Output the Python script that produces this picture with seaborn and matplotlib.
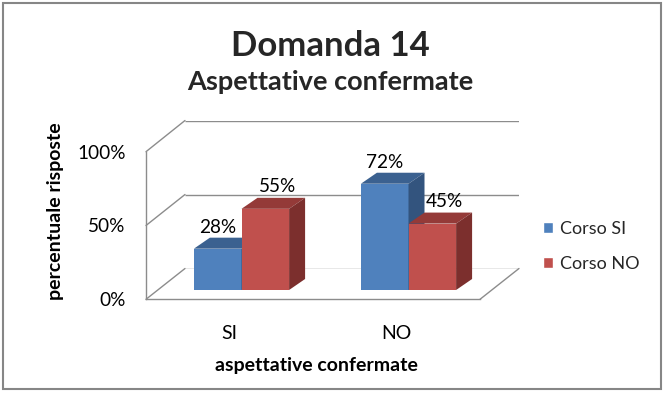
import matplotlib
matplotlib.use("Agg")
import matplotlib.pyplot as plt
import seaborn as sns
import pandas as pd
from matplotlib.patches import Polygon, Rectangle, ConnectionPatch

# --- data ---
categories = ["SI", "NO"]
series = ["Corso SI", "Corso NO"]
corso_si = [28, 72]
corso_no = [55, 45]
yticks = [0, 50, 100]
ytick_labels = ["0%", "50%", "100%"]

title = "Domanda 14"
subtitle = "Aspettative confermate"
xlabel = "aspettative confermate"
ylabel = "percentuale risposte"

front_colors = ["#4F81BD", "#C0504D"]
top_colors = ["#3B6190", "#943A38"]
side_colors = ["#33547E", "#7C2F2D"]
grid_color = "#8C8C8C"

W, H = 664, 393


def px_rect(left, top, right, bottom):
    # pixel box (top-left origin) -> figure fraction rect
    return [left / W, 1 - bottom / H, (right - left) / W, (bottom - top) / H]


df = pd.DataFrame({
    "categoria": categories * 2,
    "serie": [series[0]] * len(categories) + [series[1]] * len(categories),
    "valore": corso_si + corso_no,
})

sns.set_theme(style="white")
plt.rcParams["font.family"] = ["Lato", "DejaVu Sans"]

fig = plt.figure(figsize=(W / 100, H / 100), dpi=100)
fig.patch.set_facecolor("white")

# back wall, front plane (axis + labels), plane of the bars
ax_b = fig.add_axes(px_rect(185, 120.5, 519, 268.5))
ax_f = fig.add_axes(px_rect(146, 151.7, 480, 299.3))
ax_m = fig.add_axes(px_rect(158, 142.4, 492, 290))

for ax in (ax_b, ax_f, ax_m):
    ax.set_xlim(-0.5, len(categories) - 0.5)
    ax.set_ylim(0, 100)
    ax.patch.set_alpha(0)

# back wall gridlines
ax_b.set_axis_off()
ax_b.hlines(yticks, -0.5, len(categories) - 0.5, color=grid_color, lw=1)

# front plane: value axis and category labels
for s in ["top", "right"]:
    ax_f.spines[s].set_visible(False)
for s in ["left", "bottom"]:
    ax_f.spines[s].set_color(grid_color)
    ax_f.spines[s].set_linewidth(1)
ax_f.set_yticks(yticks)
ax_f.set_yticklabels(ytick_labels)
ax_f.set_xticks(range(len(categories)))
ax_f.set_xticklabels(categories)
ax_f.tick_params(axis="y", length=4.3, width=1, color=grid_color, pad=10.5,
                 labelsize=13.7, labelcolor="black")
ax_f.tick_params(axis="x", length=0, pad=18.5, labelsize=14, labelcolor="black")
ax_f.set_xlabel(xlabel, fontsize=14, fontweight="bold", color="black")
ax_f.xaxis.set_label_coords(316 / W, 1 - 357 / H, transform=fig.transFigure)
ax_f.set_ylabel(ylabel, fontsize=14, fontweight="bold", color="black")
ax_f.yaxis.set_label_coords(64 / W, 1 - 211 / H, transform=fig.transFigure)

# side wall / floor edges joining the front plane to the back wall
for v in yticks:
    fig.add_artist(ConnectionPatch((-0.5, v), (-0.5, v), coordsA=ax_f.transData,
                                   coordsB=ax_b.transData, color=grid_color, lw=1))
fig.add_artist(ConnectionPatch((len(categories) - 0.5, 0), (len(categories) - 0.5, 0),
                               coordsA=ax_f.transData, coordsB=ax_b.transData,
                               color=grid_color, lw=1))

# bars
sns.barplot(data=df, x="categoria", y="valore", hue="serie", palette=front_colors,
            saturation=1, width=0.57, ax=ax_m)
ax_m.set_axis_off()

x0p, y0p = ax_m.transData.transform((0, 0))
x1p, y1p = ax_m.transData.transform((1, 1))
ddx = 16 / (x1p - x0p)
ddy = 11 / (y1p - y0p)

bars = []
for k, cont in enumerate(ax_m.containers):
    for p in cont.patches:
        bars.append((p.get_x(), k, p))
bars.sort(key=lambda b: b[0])

for i, (x0, k, p) in enumerate(bars):
    w = p.get_width()
    h = p.get_height()
    p.set_edgecolor("none")
    p.set_zorder(2 + 3 * i)
    top = Polygon([(x0, h), (x0 + w, h), (x0 + w + ddx, h + ddy), (x0 + ddx, h + ddy)],
                  closed=True, facecolor=top_colors[k], edgecolor="none",
                  zorder=3 + 3 * i, clip_on=False)
    side = Polygon([(x0 + w, 0), (x0 + w + ddx, ddy), (x0 + w + ddx, h + ddy), (x0 + w, h)],
                   closed=True, facecolor=side_colors[k], edgecolor="none",
                   zorder=3 + 3 * i, clip_on=False)
    ax_m.add_patch(top)
    ax_m.add_patch(side)
    off = (0, 15.2) if k == 0 else (8.6, 15.8)
    ax_m.annotate(f"{h:.0f}%", (x0 + w / 2, h), xytext=off, textcoords="offset points",
                  ha="center", va="center", fontsize=13.7, color="black",
                  zorder=50, annotation_clip=False)

sns.move_legend(ax_m, "center left", bbox_to_anchor=(543 / W, 1 - 246.5 / H),
                bbox_transform=fig.transFigure, frameon=False, title=None,
                handlelength=0.56, handleheight=0.56, labelspacing=1.05,
                handletextpad=0.4, borderpad=0, borderaxespad=0, fontsize=13)

fig.text(330 / W, 1 - 46 / H, title, ha="center", va="center", fontsize=25,
         fontweight="bold")
fig.text(330 / W, 1 - 82 / H, subtitle, ha="center", va="center", fontsize=19.5,
         fontweight="bold")

fig.add_artist(Rectangle((3 / W, 4 / H), 658 / W, 386 / H, transform=fig.transFigure,
                         fill=False, edgecolor="#868686", lw=1.5))

fig.savefig("out.png", dpi=100)
